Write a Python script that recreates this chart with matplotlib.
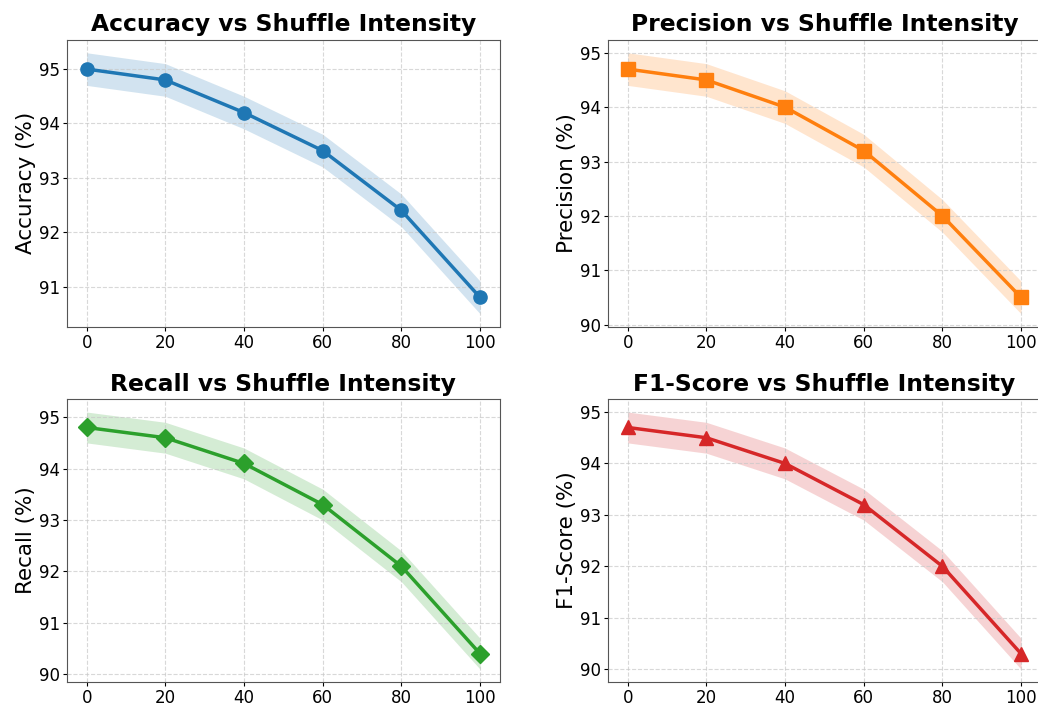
import matplotlib
matplotlib.use("Agg")
import matplotlib.pyplot as plt
import numpy as np

# shuffle intensity (%)
intensity = [0, 20, 40, 60, 80, 100]

accuracy = [95.0, 94.8, 94.2, 93.5, 92.4, 90.8]
precision = [94.7, 94.5, 94.0, 93.2, 92.0, 90.5]
recall = [94.8, 94.6, 94.1, 93.3, 92.1, 90.4]
f1_score = [94.7, 94.5, 94.0, 93.2, 92.0, 90.3]

# half width of the shaded band
band = 0.3

panels = [
    ("Accuracy", accuracy, "#1f77b4", "o"),
    ("Precision", precision, "#ff7f0e", "s"),
    ("Recall", recall, "#2ca02c", "D"),
    ("F1-Score", f1_score, "#d62728", "^"),
]

fig = plt.figure(figsize=(10.38, 7.09), dpi=100)
# axes boxes [left, bottom, width, height]; right column runs a bit past the edge
boxes = [
    [0.0645, 0.539, 0.417, 0.405],
    [0.5857, 0.539, 0.417, 0.405],
    [0.0645, 0.038, 0.417, 0.399],
    [0.5857, 0.038, 0.417, 0.399],
]

for box, (name, vals, color, marker) in zip(boxes, panels):
    ax = fig.add_axes(box)
    vals = np.array(vals)
    ax.fill_between(intensity, vals - band, vals + band, color=color,
                    alpha=0.2, linewidth=0)
    ax.plot(intensity, vals, color=color, marker=marker, linewidth=2.5,
            markersize=9.5)
    ax.set_title(name + " vs Shuffle Intensity", fontsize=16.8,
                 fontweight="bold", pad=6)
    ax.set_ylabel(name + " (%)", fontsize=15.5, labelpad=2)
    ax.tick_params(labelsize=12, length=3, pad=2)
    ax.set_xticks(intensity)
    ax.grid(True, linestyle="--", alpha=0.7, color="#c8c8c8")
    for s in ax.spines.values():
        s.set_color("#555555")

plt.savefig("out.png", dpi=100)
